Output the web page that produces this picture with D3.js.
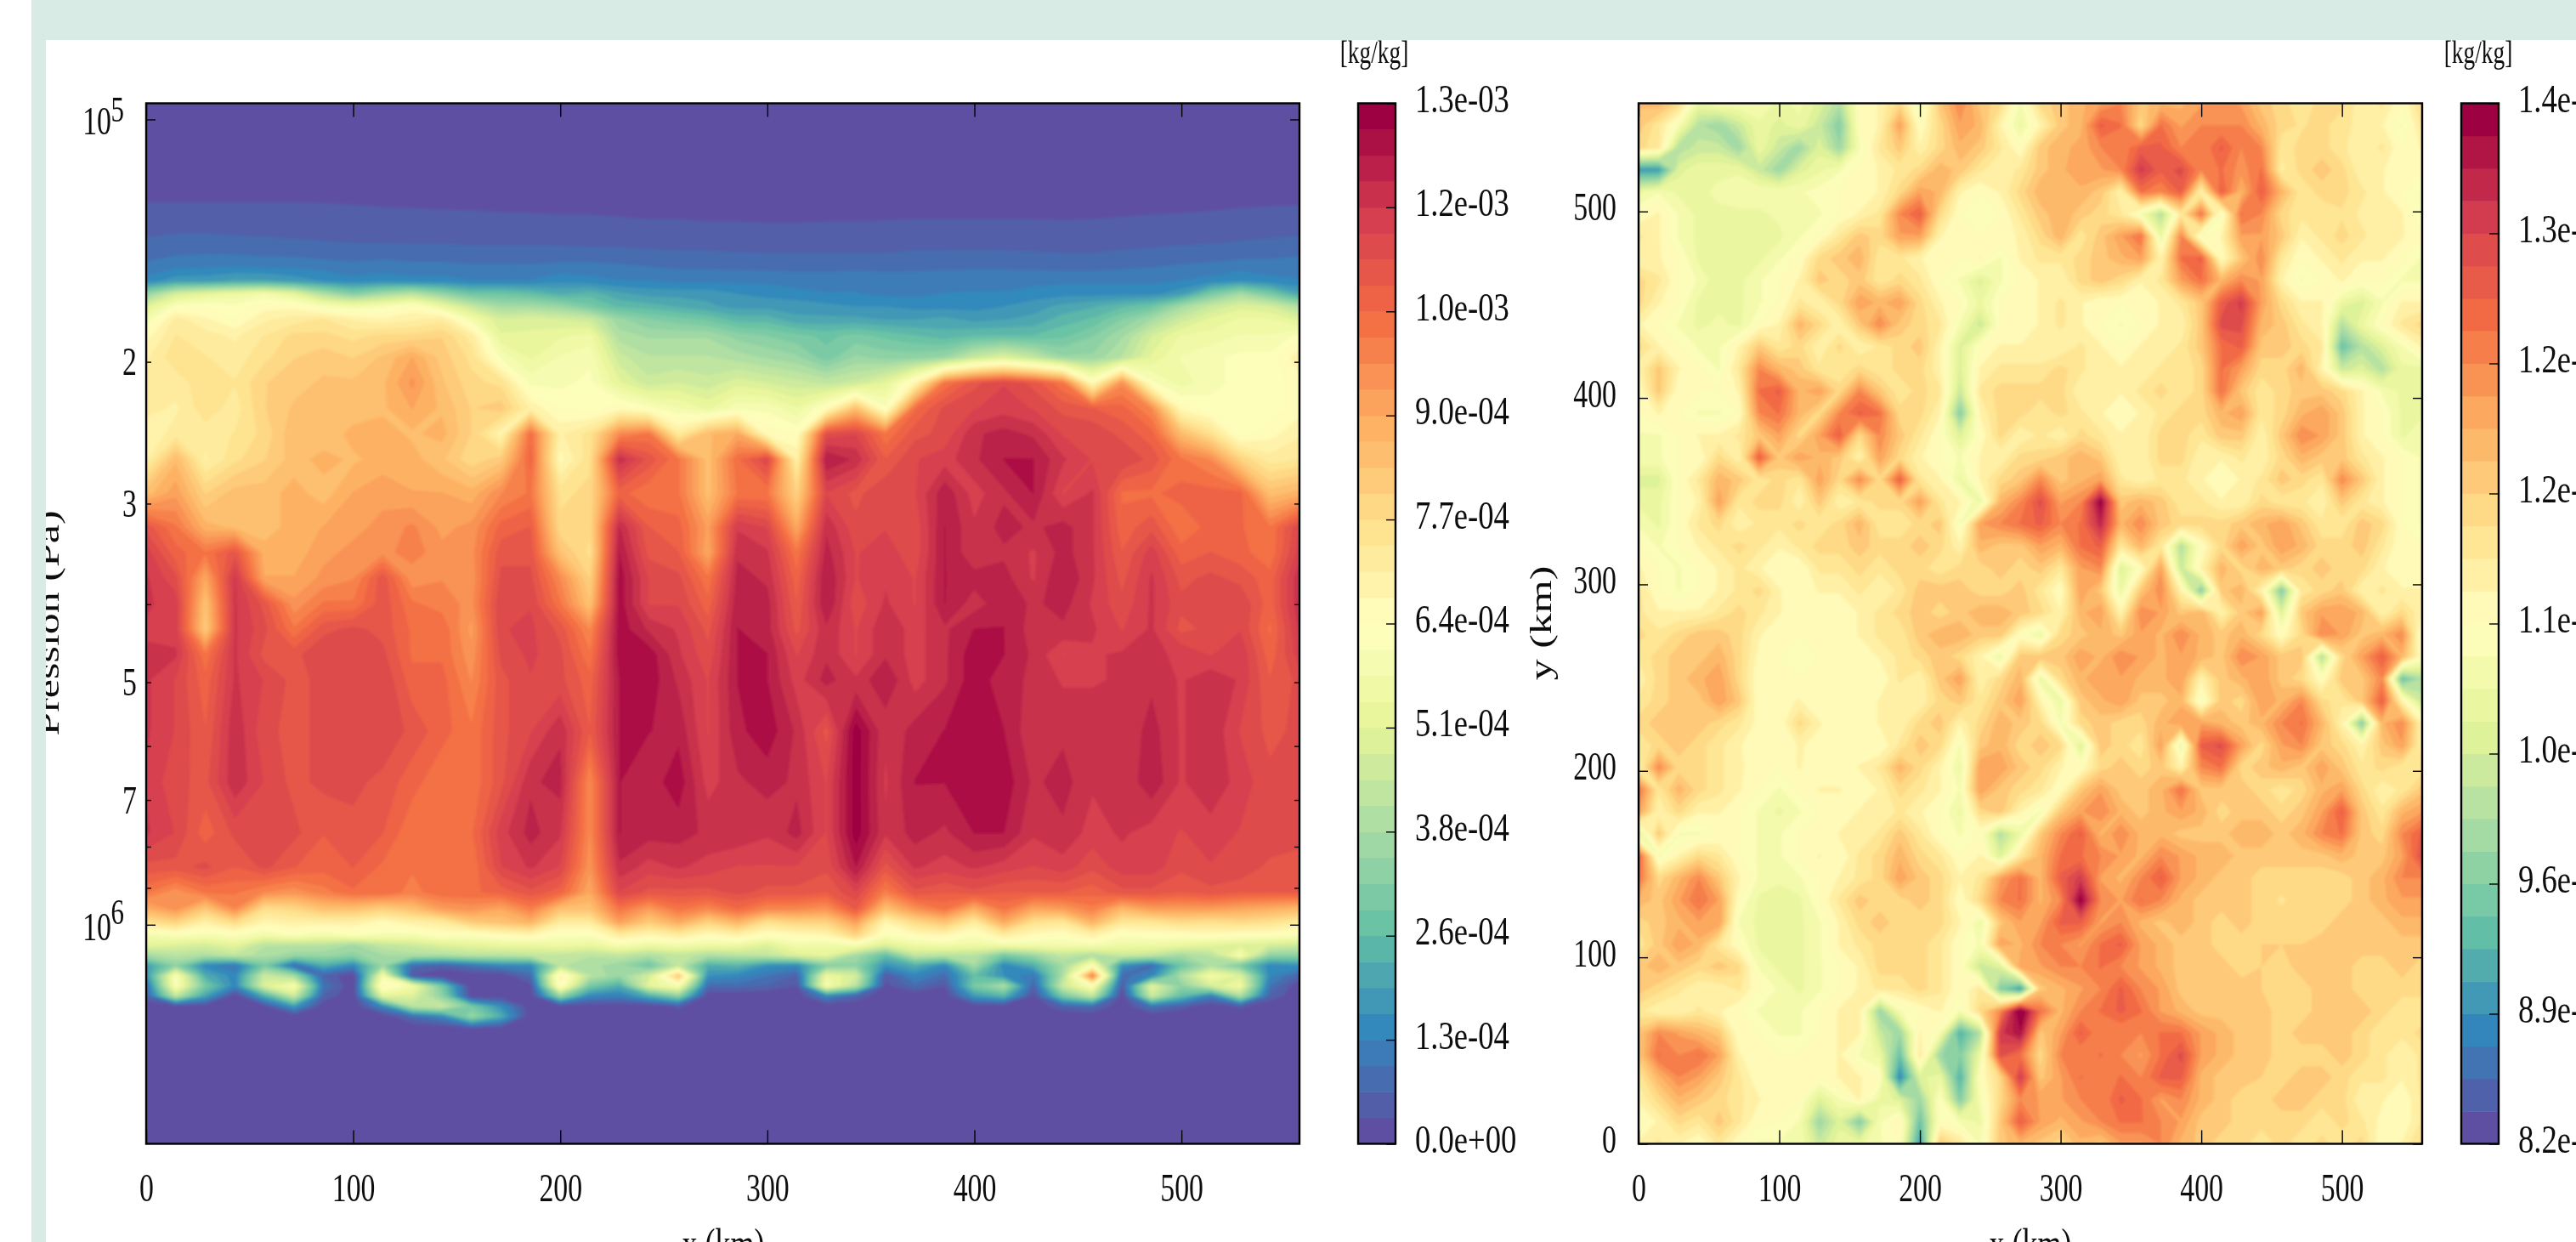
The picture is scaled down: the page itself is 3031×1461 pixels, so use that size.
<!DOCTYPE html>
<html>
<head>
<meta charset="utf-8">
<script src="https://cdnjs.cloudflare.com/ajax/libs/d3/7.8.5/d3.min.js"></script>
<style>
  html, body { margin: 0; padding: 0; background: #fff; overflow: hidden; }
  text { font-family: "Liberation Serif", serif; fill: #111; }
</style>
</head>
<body>
<script>
// values are in 1e-5 kg/kg
const sectionPressure = [95490,125950,133840,142210,151130,158650,164570,170640,176970,185770,197400,212320,228420,245690,264240,291200,320900,345100,371200,399400,429500,461900,496700,574800,665000,769300,847800,912000,957200,992700,1029600,1060000,1091400,1123700,1157000,1191000,1226000,1263000,1300000,1345000,1395000,1871000];
const zeros = d3.range(40).map(() => 0);
const sectionRows = [
  zeros,
  [3,3,3,3,3,3,3,2.8,2.6,2.5,2.4,2.3,2.2,2,2,2,1.8,1.6,1.6,1.4,1.4,1.4,1.4,1.4,1.4,1.5,1.5,1.5,1.5,1.5,1.5,1.5,1.6,1.8,2,2,2.2,2.4,2.5,2.6],
  [4.8,5,5,5,5,4.8,4.6,4.6,4.5,4.4,4.2,4.2,4,4,3.8,3.8,3.6,3.4,3.4,3.2,3.2,3.1,3.1,3.2,3.2,3.3,3.4,3.4,3.4,3.4,3.4,3.3,3.4,3.6,3.8,4,4.2,4.6,5,5.2],
  [7,7.5,7.5,7.2,7,6.8,6.6,6.4,6.4,6.2,6.2,6,6,6,5.8,5.6,5.6,5.4,5.2,5.2,5,5,5,5,5,5,5.2,5.2,5.4,5.2,5.2,5,5,5.4,5.6,6,6.2,6.6,6.8,7],
  [10,11,11.5,11.5,11,11,10.5,10,10.5,10,10,9.6,9.6,9.5,10,10,9.6,9,8.5,8.5,8.2,8,8,8,8,8,8.5,8.5,8.5,8.5,8.2,8,8,8.5,9,9.5,10,10.5,10.5,11],
  [14,18,18,20,20,18,16,14,15,14,14,13,13,13,15,14,13,13,12,12,12,12,11.5,11.5,12,11.5,11,11.5,12,12,12,12,12,12,12,13,14,16,14,13],
  [35,48,52,55,58,52,40,32,38,42,35,28,28,26,22,24,20,18,18,18,16,15,14,13,13,12,12,13,13,13,14,15,15,15,15,18,30,38,30,20],
  [50,62,64,62,66,66,60,58,60,65,55,45,38,38,36,30,25,24,22,20,18,18,18,17,16,16,15,15,15,16,18,20,22,25,28,38,45,50,48,40],
  [58,72,68,64,70,72,74,70,68,70,72,58,48,50,48,46,36,32,30,28,24,24,20,20,20,19,19,20,18,19,20,24,26,32,38,46,52,55,55,50],
  [66,74,72,70,74,78,78,76,78,78,80,72,52,52,54,56,40,38,38,38,34,32,30,28,30,28,26,24,26,26,26,28,32,38,48,55,56,58,58,62],
  [70,76,74,72,76,80,82,80,84,90,82,76,60,54,58,60,46,42,42,42,40,38,36,30,36,34,34,36,45,50,44,36,36,42,52,58,60,62,62,70],
  [72,72,76,74,80,82,84,84,86,94,84,78,76,60,60,62,52,46,48,46,50,48,46,44,46,52,68,100,108,112,108,100,66,95,62,56,60,62,62,66],
  [72,70,76,72,80,84,84,84,86,90,86,80,82,70,64,62,66,62,58,54,60,60,55,65,85,62,102,110,112,114,112,108,106,104,96,66,62,62,62,66],
  [68,72,72,74,78,86,84,88,88,86,88,80,68,102,70,75,96,100,72,86,90,66,64,110,112,100,108,110,118,120,118,112,112,108,104,86,76,62,66,70],
  [70,86,70,76,80,85,88,86,88,88,84,78,82,104,66,76,118,108,100,85,102,112,70,122,118,106,112,114,118,122,122,116,112,112,108,100,96,80,72,74],
  [85,92,80,85,85,88,85,90,92,90,90,88,96,100,76,78,104,100,100,85,100,100,80,112,108,112,112,121,114,118,122,112,116,102,102,104,104,104,85,88],
  [108,100,88,86,85,88,90,92,94,97,92,94,104,106,78,78,119,106,104,92,115,112,90,118,110,112,110,122,116,120,118,120,116,104,108,100,104,103,100,112],
  [114,104,100,108,88,88,92,94,95,98,94,95,108,108,84,76,122,108,106,90,118,116,100,120,112,114,110,122,116,118,115,120,116,106,114,104,106,104,100,114],
  [116,110,90,116,90,90,94,96,108,94,96,94,110,110,96,80,124,112,110,100,120,118,104,122,112,115,112,122,120,120,115,122,116,108,116,108,110,108,104,118],
  [116,114,84,116,108,94,100,100,108,100,98,95,112,112,100,84,124,112,112,104,121,120,106,122,110,116,112,122,117,121,118,120,115,110,116,110,110,112,104,118],
  [115,114,82,116,110,100,108,110,108,102,102,92,112,113,108,96,124,118,115,108,122,120,108,118,112,118,114,118,122,122,117,118,116,112,116,108,110,112,102,116],
  [116,116,100,116,108,108,112,112,110,102,102,94,110,113,110,100,124,124,116,110,122,122,112,118,112,118,114,118,124,122,118,112,115,116,116,115,112,115,104,114],
  [116,112,104,116,112,108,110,112,112,104,104,96,108,112,110,104,122,124,118,112,122,122,114,120,116,122,114,118,124,120,118,115,115,116,118,115,118,115,106,110],
  [116,112,106,118,110,108,110,110,112,108,104,100,108,112,118,106,122,122,121,112,121,124,118,108,127,116,120,122,124,122,116,118,118,116,120,115,118,112,108,110],
  [115,110,108,118,112,108,110,110,108,104,100,100,108,118,120,96,122,120,124,114,118,120,118,112,127,115,122,122,124,124,118,120,116,116,121,115,118,114,110,110],
  [116,112,104,110,112,110,106,108,106,100,102,102,114,120,116,96,122,120,120,118,118,116,120,112,127,116,120,118,122,122,116,118,114,116,114,112,114,112,112,110],
  [108,108,110,106,110,106,104,106,102,100,102,100,112,116,112,94,118,114,116,114,112,112,112,110,122,108,116,114,116,114,112,114,110,114,114,110,112,112,108,108],
  [100,94,100,100,96,94,98,102,102,98,102,102,104,108,104,90,112,108,108,108,110,108,108,106,112,98,108,106,108,106,106,106,104,108,108,106,108,106,106,106],
  [88,94,82,96,76,78,84,84,80,84,92,94,90,98,84,84,100,92,100,96,102,96,96,94,106,84,94,100,88,100,90,92,98,86,92,92,92,90,88,86],
  [76,80,70,78,68,70,70,70,66,70,72,82,84,88,72,72,92,82,90,80,88,76,80,80,92,68,78,84,72,90,76,74,88,74,74,78,76,78,76,72],
  [58,62,60,62,58,62,58,62,60,60,64,62,66,68,62,62,72,68,72,66,70,64,66,68,80,62,66,68,62,72,66,64,70,62,64,64,66,64,64,62],
  [52,50,48,52,42,42,42,38,44,46,50,52,54,54,56,54,60,56,58,56,56,50,58,56,60,50,56,58,56,58,58,58,60,56,56,54,52,50,48,46],
  [38,42,40,44,40,36,36,34,38,40,40,42,42,44,44,42,44,40,44,40,42,44,50,52,38,26,44,42,42,30,36,44,40,46,44,38,42,60,34,34],
  [18,34,14,10,30,8,22,14,36,8,5,10,14,14,42,40,36,28,44,22,24,16,14,32,34,16,22,14,38,14,22,38,62,16,8,28,40,30,14,16],
  [16,62,22,14,46,38,6,0,58,3,0,0,0,8,70,42,36,48,84,16,14,10,6,55,48,4,14,8,26,16,10,40,100,8,14,40,58,50,14,6],
  [8,62,30,14,50,60,10,0,68,58,30,0,0,2,66,30,22,52,60,8,8,6,3,60,42,2,8,3,30,40,6,46,62,4,52,34,48,56,10,0],
  [6,44,20,0,22,46,6,0,52,50,34,0,0,0,36,14,12,22,34,0,0,0,0,14,6,0,0,0,18,24,2,30,44,0,46,26,12,40,6,0],
  [0,0,0,0,2,18,0,0,14,42,46,30,16,0,0,0,0,0,4,0,0,0,0,0,0,0,0,0,0,0,0,6,8,0,10,5,0,4,0,0],
  [0,0,0,0,0,0,0,0,0,8,14,36,22,0,0,0,0,0,0,0,0,0,0,0,0,0,0,0,0,0,0,0,0,0,0,0,0,0,0,0],
  [0,0,0,0,0,0,0,0,0,0,0,3,1,0,0,0,0,0,0,0,0,0,0,0,0,0,0,0,0,0,0,0,0,0,0,0,0,0,0,0],
  zeros,
  zeros
];

const mapRows = [
  [119,120,116,106,108,108,108,106,107,104,100,110,112,116,107,118,124,118,116,108,116,118,120,122,124,118,120,120,122,123,122,118,116,114,116,116,112,114,110,116],
  [118,114,108,100,98,102,106,104,106,102,96,110,112,122,110,116,122,120,112,106,112,118,120,128,126,116,126,122,124,124,124,120,116,115,116,114,113,112,108,114],
  [116,114,100,102,102,98,106,102,98,104,98,108,114,118,112,116,120,118,114,110,118,120,121,124,124,128,128,124,124,128,124,124,114,116,116,114,112,114,110,112],
  [90,90,104,106,106,106,102,98,104,106,108,110,112,114,116,120,118,114,112,114,118,120,122,122,124,132,128,130,124,126,123,126,113,116,118,116,112,112,110,110],
  [106,108,106,106,107,108,108,108,108,109,110,110,112,116,122,120,112,110,112,116,120,120,120,118,112,126,124,128,112,128,120,128,120,114,116,116,114,112,110,108],
  [110,112,108,106,106,106,106,107,108,108,110,112,114,124,128,116,110,109,110,114,118,120,118,116,114,108,100,114,126,108,126,124,116,114,114,115,113,113,112,108],
  [114,112,108,106,105,106,106,106,108,110,114,118,116,122,122,112,110,110,111,112,116,120,114,118,122,126,106,124,108,112,122,122,118,112,114,116,114,112,112,110],
  [112,112,110,106,106,105,106,108,110,116,118,120,114,114,112,110,110,112,108,112,114,114,116,118,120,122,112,126,128,110,118,124,114,110,112,114,112,112,110,108],
  [116,114,110,108,105,106,108,110,112,118,116,118,114,116,114,110,108,104,108,110,112,112,116,118,116,112,114,122,126,120,124,122,112,108,110,112,110,110,108,108],
  [116,112,110,106,106,106,108,110,114,112,116,122,120,122,116,112,110,106,110,110,112,114,112,110,110,110,112,114,118,128,132,122,116,112,112,106,104,108,112,112],
  [112,110,108,106,107,106,110,112,120,116,112,118,124,118,116,114,108,102,110,110,112,114,112,110,108,110,112,112,118,130,130,120,118,114,112,100,106,110,114,116],
  [116,112,110,108,108,112,118,114,116,112,116,112,114,116,118,112,104,110,112,112,112,112,114,112,110,112,112,114,118,126,128,118,118,116,114,94,100,104,108,112],
  [112,118,112,110,108,114,124,120,118,114,114,116,114,116,116,112,104,112,114,114,114,116,114,112,112,112,114,114,116,126,122,116,116,120,112,102,104,100,106,106],
  [110,118,110,110,110,112,126,128,120,122,116,124,118,114,116,114,102,114,116,116,116,116,112,112,112,114,116,114,116,126,118,114,116,118,118,116,112,108,106,106],
  [110,112,110,108,108,110,124,126,120,116,124,128,126,116,116,112,96,112,116,116,114,116,114,112,110,112,114,116,116,120,122,114,116,120,122,118,112,110,106,106],
  [108,108,110,112,112,114,118,122,116,122,128,116,124,118,114,110,104,110,116,112,114,112,116,114,112,112,116,116,114,118,118,112,118,124,122,118,112,110,106,108],
  [108,108,110,110,116,112,128,118,122,120,118,112,122,116,112,110,108,112,112,116,116,118,120,118,112,112,116,116,112,112,114,112,116,120,118,118,114,112,110,108],
  [104,104,110,114,120,118,114,116,114,122,116,124,116,128,114,112,106,112,116,118,124,118,120,122,114,112,114,114,112,110,112,114,118,116,114,124,118,112,110,108],
  [106,106,110,112,122,114,116,116,112,118,112,114,116,116,122,114,112,106,120,124,130,122,124,138,118,120,118,114,114,112,112,116,114,114,112,118,114,112,110,108],
  [108,106,110,114,116,112,114,114,116,114,116,120,114,114,116,118,108,122,124,126,128,124,126,134,120,124,118,116,116,116,118,120,122,118,114,114,118,116,110,108],
  [110,108,110,112,114,116,114,112,114,116,116,118,116,116,118,116,112,120,118,118,122,120,126,128,114,120,114,100,110,116,122,118,122,120,116,116,118,114,110,110],
  [112,110,108,110,112,114,112,110,110,114,114,116,114,116,116,114,116,116,118,116,118,114,122,124,104,110,122,102,112,120,116,120,118,116,118,116,116,112,110,110],
  [114,110,108,110,112,114,116,112,110,112,112,114,112,114,118,118,118,116,116,118,114,110,122,118,106,118,124,112,96,118,120,112,96,114,116,118,112,114,112,112],
  [114,112,112,112,114,116,114,112,110,110,110,112,114,116,118,116,118,120,120,118,116,112,120,122,112,124,122,118,120,112,118,122,104,118,122,122,120,112,116,112],
  [116,114,116,118,118,116,112,110,110,110,110,112,114,114,118,120,120,118,118,110,106,116,118,120,118,122,120,124,120,118,120,116,110,116,124,122,118,120,124,108],
  [114,116,118,118,120,116,111,110,109,110,110,110,112,114,116,118,116,112,106,118,118,118,122,120,124,122,120,122,120,118,124,122,118,118,100,116,122,128,120,110],
  [112,116,118,120,122,116,110,110,110,110,110,110,110,114,112,118,122,112,116,120,106,116,120,122,122,120,120,122,112,118,120,122,118,116,110,118,118,124,94,100],
  [114,116,118,118,122,118,110,111,112,110,110,110,112,112,112,116,118,114,118,122,112,106,118,120,122,118,118,120,108,118,116,122,120,124,116,114,118,128,112,102],
  [116,118,118,118,116,114,111,110,116,112,110,110,112,112,116,118,112,116,120,118,116,108,116,118,116,116,120,122,122,120,118,120,124,126,120,112,96,120,124,112],
  [114,116,118,116,114,112,110,110,112,111,110,110,110,114,118,116,108,118,120,116,118,116,104,118,116,114,122,106,128,130,122,116,122,124,118,116,112,118,122,112],
  [112,124,116,116,114,112,111,110,112,110,110,112,114,120,116,112,106,122,122,118,116,112,110,116,118,116,118,112,124,126,116,118,120,118,122,118,114,116,114,114],
  [126,114,120,116,114,112,110,108,110,112,112,110,112,116,114,112,108,122,118,116,114,110,118,122,118,118,120,126,118,118,118,116,114,116,120,122,116,112,114,118],
  [122,112,116,112,112,110,108,106,108,110,110,112,112,114,112,110,106,116,118,112,108,118,122,124,120,118,120,122,120,116,118,118,116,118,122,128,118,114,120,122],
  [104,118,108,108,110,110,108,108,110,110,112,112,114,118,114,110,108,110,100,106,118,124,128,120,124,120,120,118,118,118,120,120,118,120,124,126,118,116,124,128],
  [128,108,112,116,114,110,108,108,110,112,110,114,116,120,116,114,110,112,104,114,120,126,126,124,122,120,124,122,120,120,118,118,118,118,118,120,118,118,122,130],
  [126,116,120,124,118,112,108,107,108,110,112,114,116,122,118,116,112,114,122,126,120,128,132,122,120,124,128,122,120,118,118,116,116,116,116,116,118,120,124,124],
  [120,118,122,126,122,110,106,105,106,110,114,118,116,116,118,116,110,116,124,126,120,124,138,124,122,126,124,120,118,118,118,116,115,116,116,116,118,120,122,122],
  [116,118,120,122,122,108,106,105,106,108,112,116,118,116,116,116,112,106,118,122,122,128,128,122,124,120,118,120,118,116,118,116,116,116,116,118,118,118,120,120],
  [114,118,122,120,114,110,106,106,106,108,112,114,116,116,116,114,110,108,122,120,124,124,122,126,128,122,120,118,118,116,116,117,117,117,118,118,118,118,118,118],
  [118,120,118,116,118,116,108,106,106,108,110,112,116,116,116,114,110,102,104,122,122,124,124,126,124,122,120,118,118,118,116,117,116,118,118,118,116,116,118,116],
  [118,116,114,112,112,114,110,108,106,108,110,112,114,114,116,114,110,114,96,90,118,120,122,124,128,124,122,118,118,118,118,117,116,116,118,118,116,116,116,116],
  [114,112,112,114,112,110,108,108,108,110,112,112,98,108,110,112,108,116,124,140,126,120,124,126,128,126,122,120,118,118,118,118,116,116,118,118,118,116,114,114],
  [118,124,122,120,118,110,110,108,108,110,112,112,102,98,112,108,92,100,132,136,118,122,128,124,124,124,126,126,122,120,118,118,116,118,118,118,116,114,114,116],
  [118,126,124,126,122,112,110,110,110,110,112,108,106,94,114,98,96,106,130,126,116,124,124,126,124,122,126,130,122,120,118,118,116,116,116,118,116,114,112,114],
  [114,120,124,122,118,114,110,110,110,110,112,112,110,88,104,106,92,110,116,132,118,122,126,124,126,124,128,128,120,118,118,117,116,118,118,116,114,114,112,114],
  [112,116,120,118,116,114,112,110,110,104,108,112,106,104,98,110,96,108,116,124,122,122,124,124,128,126,122,124,120,118,116,116,118,118,116,116,112,112,110,114],
  [110,112,116,114,118,114,110,110,108,98,104,96,108,112,94,110,108,106,118,128,122,120,122,124,126,126,124,122,118,118,116,116,116,116,114,116,114,111,110,114],
  [112,114,112,110,114,110,108,108,108,102,106,106,108,110,90,118,114,108,118,120,118,116,120,118,122,122,124,120,118,116,116,114,116,114,116,114,116,110,112,116]
];

const xTicks = [0, 100, 200, 300, 400, 500];
const mapYTicks = [0, 100, 200, 300, 400, 500];
const pressureTicks = [1e5,2e5,3e5,4e5,5e5,6e5,7e5,8e5,9e5,1e6];
const pressureLabels = { 200000: '2', 300000: '3', 500000: '5', 700000: '7' };
const sectionBarTicks = [0,12.83,25.66,38.49,51.32,64.15,76.98,89.81,102.64,115.47,128.3];
const sectionBarLabels = ['0.0e+00','1.3e-04','2.6e-04','3.8e-04','5.1e-04','6.4e-04','7.7e-04','9.0e-04','1.0e-03','1.2e-03','1.3e-03'];
const mapBarTicks = [82,89,96,103,110,117,124,131,138];
const mapBarLabels = ['8.2e-04','8.9e-04','9.6e-04','1.0e-03','1.1e-03','1.2e-03','1.2e-03','1.3e-03','1.4e-03'];

const plotTop = 121.5, plotBottom = 1345.5;
const kmMax = 557;
const squeeze = 0.72; // the whole picture was stretched, text is narrower than it is high

const spectral = d3.piecewise(d3.interpolateRgb, d3.schemeSpectral[11].slice().reverse());

const svg = d3.select('body').append('svg')
  .attr('width', 3031)
  .attr('height', 1461)
  .style('display', 'block');

const defs = svg.append('defs');
defs.append('filter').attr('id', 'soft').attr('x', '-2%').attr('y', '-2%').attr('width', '104%').attr('height', '104%')
  .append('feGaussianBlur').attr('stdDeviation', 1.6);
defs.append('filter').attr('id', 'softText').attr('x', '-5%').attr('y', '-5%').attr('width', '110%').attr('height', '110%')
  .append('feGaussianBlur').attr('stdDeviation', 0.6);

function addClip(id, x0, x1) {
  defs.append('clipPath').attr('id', id).append('rect')
    .attr('x', x0).attr('y', plotTop).attr('width', x1 - x0).attr('height', plotBottom - plotTop);
}

function flatten(rows, n) {
  return rows.flatMap(r => d3.range(n).map(i => (i < r.length ? r[i] : r[r.length - 1])));
}

// filled contours, levels evenly spaced from lo to hi
function drawField(id, rows, lo, hi, nBands, x, rowY, x0, x1) {
  const nc = rows[0].length, nr = rows.length;
  const band = (hi - lo) / nBands;
  const thresholds = d3.range(1, nBands).map(i => lo + i * band);
  const colIndex = d3.scaleLinear().domain([0, nc - 1]).range([0, kmMax]).clamp(true);
  const path = d3.geoPath(d3.geoTransform({
    point(cx, cy) { this.stream.point(x(colIndex(cx - 0.5)), rowY(cy - 0.5)); }
  }));
  const contours = d3.contours().size([nc, nr]).thresholds(thresholds)(flatten(rows, nc));

  addClip(id, x0, x1);
  const g = svg.append('g').attr('clip-path', `url(#${id})`).append('g').attr('filter', 'url(#soft)');
  g.append('rect').attr('x', x0 - 10).attr('y', plotTop - 10)
    .attr('width', x1 - x0 + 20).attr('height', plotBottom - plotTop + 20)
    .attr('fill', spectral(0));
  g.selectAll('path').data(contours).enter().append('path')
    .attr('d', path)
    .attr('fill', (d, i) => spectral((i + 1) / (nBands - 1)));
}

function frame(x0, x1) {
  svg.append('rect').attr('x', x0).attr('y', plotTop).attr('width', x1 - x0).attr('height', plotBottom - plotTop)
    .attr('fill', 'none').attr('stroke', '#000').attr('stroke-width', 2.4);
}

function bareAxis(sel) {
  sel.select('.domain').remove();
  sel.selectAll('line').attr('stroke', '#000').attr('stroke-width', 1.4);
}

function xAxes(x) {
  svg.append('g').attr('transform', `translate(0,${plotTop})`)
    .call(d3.axisTop(x).tickValues(xTicks).tickSize(-16).tickFormat(''))
    .call(bareAxis);
  svg.append('g').attr('transform', `translate(0,${plotBottom})`)
    .call(d3.axisBottom(x).tickValues(xTicks).tickSize(-16))
    .call(bareAxis)
    .call(g => g.selectAll('text')
      .attr('y', 68).attr('dy', 0).attr('font-size', 47)
      .style('font-family', '"Liberation Serif", serif')
      .attr('transform', `scale(${squeeze},1)`));
}

function axisLabel(x, y, txt, rotate) {
  svg.append('text')
    .attr('transform', `translate(${x},${y}) scale(${squeeze},1)` + (rotate ? ' rotate(-90)' : ''))
    .attr('text-anchor', 'middle')
    .attr('font-size', 50)
    .text(txt);
}

function colorbar(x0, x1, lo, hi, nBands, ticks, labels, labelX, unitX) {
  const y = d3.scaleLinear().domain([lo, hi]).range([plotBottom, plotTop]);
  const band = (hi - lo) / nBands;
  svg.append('g').selectAll('rect').data(d3.range(nBands)).enter().append('rect')
    .attr('x', x0)
    .attr('width', x1 - x0)
    .attr('y', i => y(lo + (i + 1) * band))
    .attr('height', i => y(lo + i * band) - y(lo + (i + 1) * band) + 0.5)
    .attr('fill', i => spectral(i / (nBands - 1)));
  frame(x0, x1);
  svg.append('g').attr('transform', `translate(${x1},0)`)
    .call(d3.axisRight(y).tickValues(ticks).tickSize(-11).tickFormat((d, i) => labels[i]))
    .call(bareAxis)
    .call(g => g.selectAll('text')
      .attr('x', (labelX - x1) / 0.78).attr('dy', 10).attr('font-size', 47)
      .style('font-family', '"Liberation Serif", serif')
      .attr('transform', 'scale(0.78,1)'));
  svg.append('text')
    .attr('transform', `translate(${unitX},74) scale(${squeeze},1)`)
    .attr('text-anchor', 'middle')
    .attr('font-size', 38)
    .text('[kg/kg]');
}

// left panel: section against log pressure
const xSection = d3.scaleLinear().domain([0, kmMax]).range([172, 1529]);
const py = d3.scaleLog().domain([95490, 1871000]).range([plotTop, plotBottom]);
const sectionRowY = d3.scaleLinear()
  .domain(d3.range(sectionPressure.length))
  .range(sectionPressure.map(p => py(p)))
  .clamp(true);
drawField('clipSection', sectionRows, 0, 128.3, 40, xSection, sectionRowY, 172, 1529);

xAxes(xSection);
const majorP = d => d === 1e5 || d === 1e6;
function pressureAxis(sel) {
  bareAxis(sel);
  sel.selectAll('.tick line').attr('x2', (d) => (sel.attr('data-side') === 'l' ? 1 : -1) * (majorP(d) ? 11 : 6));
}
svg.append('g').attr('data-side', 'l').attr('transform', 'translate(172,0)')
  .call(d3.axisLeft(py).tickValues(pressureTicks).tickFormat(d => pressureLabels[d] || ''))
  .call(pressureAxis)
  .call(g => g.selectAll('text')
    .attr('x', -11 / squeeze).attr('dy', 15).attr('font-size', 47)
    .style('font-family', '"Liberation Serif", serif')
    .attr('transform', `scale(${squeeze},1)`));
svg.append('g').attr('data-side', 'r').attr('transform', 'translate(1529,0)')
  .call(d3.axisRight(py).tickValues(pressureTicks).tickFormat(''))
  .call(pressureAxis);
[[1e5, '5', 3], [1e6, '6', -1]].forEach(([p, sup, dy]) => {
  svg.append('text')
    .attr('transform', `translate(131,${py(p) + 18}) scale(${squeeze},1)`)
    .attr('text-anchor', 'end').attr('font-size', 47).text('10');
  svg.append('text')
    .attr('transform', `translate(146,${py(p) + dy}) scale(${squeeze},1)`)
    .attr('text-anchor', 'end').attr('font-size', 43).text(sup);
});
frame(172, 1529);
axisLabel(851, 1480, 'x (km)');
axisLabel(69, 733, 'Pression (Pa)', true);
colorbar(1598, 1642, 0, 128.3, 40, sectionBarTicks, sectionBarLabels, 1665, 1617);

// right panel: horizontal map
const xMap = d3.scaleLinear().domain([0, kmMax]).range([1928, 2850]);
const my = d3.scaleLinear().domain([0, 558]).range([plotBottom, plotTop]);
const mapRowY = d3.scaleLinear().domain([0, mapRows.length - 1]).range([558, 0]).clamp(true);
drawField('clipMap', mapRows, 82, 138, 32, xMap, r => my(mapRowY(r)), 1928, 2850);

xAxes(xMap);
svg.append('g').attr('transform', 'translate(1928,0)')
  .call(d3.axisLeft(my).tickValues(mapYTicks).tickSize(-11))
  .call(bareAxis)
  .call(g => g.selectAll('text')
    .attr('x', -26 / squeeze).attr('dy', 10).attr('font-size', 47)
    .style('font-family', '"Liberation Serif", serif')
    .attr('transform', `scale(${squeeze},1)`));
svg.append('g').attr('transform', 'translate(2850,0)')
  .call(d3.axisRight(my).tickValues(mapYTicks).tickSize(-11).tickFormat(''))
  .call(bareAxis);
frame(1928, 2850);
axisLabel(2389, 1480, 'x (km)');
axisLabel(1825, 733, 'y (km)', true);
colorbar(2896, 2940, 82, 138, 32, mapBarTicks, mapBarLabels, 2963, 2916);

svg.selectAll('text').attr('filter', 'url(#softText)');

// page furniture sits on top, it cuts the labels like in the screenshot
svg.append('rect').attr('x', 37).attr('y', 0).attr('width', 2994).attr('height', 47).attr('fill', '#d8ebe5');
svg.append('rect').attr('x', 37).attr('y', 0).attr('width', 17).attr('height', 1461).attr('fill', '#d8ebe5');
</script>
</body>
</html>
